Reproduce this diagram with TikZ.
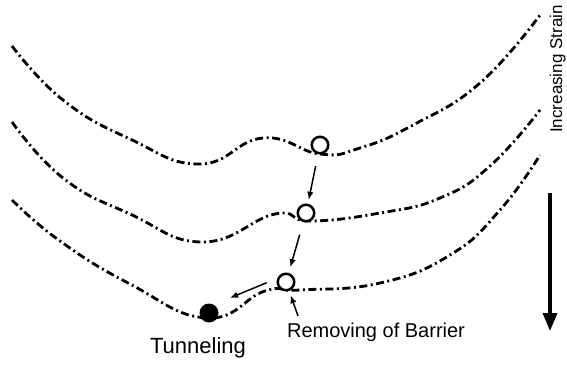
\documentclass[tikz,border=0pt]{standalone}
\usepackage{fontspec}
\setmainfont{Liberation Sans}
\usetikzlibrary{arrows.meta}
\begin{document}
\begin{tikzpicture}[x=1pt,y=-1pt,
  curve/.style={line width=2.8pt, dash pattern=on 8pt off 3.5pt on 2pt off 3.5pt},
  ballo/.style={circle, draw, line width=2.5pt, minimum size=16.5pt, inner sep=0pt, fill=white},
  ballf/.style={circle, fill=black, minimum size=19pt, inner sep=0pt},
  arr/.style={line width=1.5pt, -{Latex[length=8pt,width=6.5pt]}},
  bigarr/.style={line width=3.4pt, -{Triangle[length=18pt,width=14pt]}},
  lab/.style={inner sep=0pt}]
\useasboundingbox (0,0) rectangle (567,364);
% curves
\draw[curve] plot[smooth, tension=0.8] coordinates {(12,46) (63,100) (130,139) (200,164) (263,138) (320,154) (360,148) (413,125) (480,83) (540,15)};
\draw[curve] plot[smooth, tension=0.8] coordinates {(12,122) (63,178) (130,214) (203,242) (275,214) (310,221) (380,213) (440,198) (490,166) (540,110)};
\draw[curve] plot[smooth, tension=0.8] coordinates {(12,200) (60,241) (130,284) (207,318) (265,291) (300,290) (380,283) (450,255) (500,210) (540,155)};
% balls
\node[ballo] (c1) at (320,145) {};
\node[ballo] (c2) at (306,213) {};
\node[ballo] (c3) at (286,282) {};
\node[ballf] (ball) at (209,313) {};
% arrows
\draw[arr, shorten <=12pt, shorten >=4pt] (c1) -- (c2);
\draw[arr, shorten <=13pt, shorten >=6pt] (c2) -- (c3);
\coordinate (a3) at (266.7,282.7);
\draw[arr, shorten >=17.5pt] (a3) -- (ball.60);
\coordinate (a4) at (298,316);
\draw[arr, shorten >=4.5pt] (a4) -- (c3);
% labels
\node[lab, font=\fontsize{20}{24}\selectfont, anchor=base] (rb) at (376,337) {Removing of Barrier};
\node[lab, font=\fontsize{22}{26}\selectfont, anchor=base] (tn) at (198,353) {Tunneling};
\node[lab, font=\fontsize{17}{20}\selectfont, rotate=90, anchor=base] (is) at (562,69) {Increasing Strain};
% strain arrow
\coordinate (s0) at (550,193);
\coordinate (s1) at (550,331);
\draw[bigarr] (s0) -- (s1);
\end{tikzpicture}
\end{document}
